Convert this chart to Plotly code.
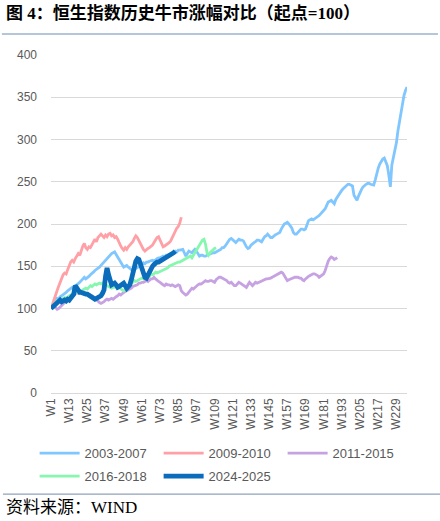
import plotly.graph_objects as go

# x categories: weekly index from the start of each bull market
weeks = ["W" + str(i) for i in range(1, 237)]
tick_weeks = ["W" + str(i) for i in range(1, 237, 12)]

# 2003-2007 rally (start = 100)
hs_2003_2007 = [
    100, 103, 106, 108, 112, 111, 114, 115, 116, 118,
    119, 121, 122, 123, 125, 124, 127, 128, 129, 131,
    133, 135, 137, 135, 136, 138, 140, 141, 143, 145,
    146, 148, 149, 151, 153, 156, 157, 160, 161, 163,
    165, 166, 167, 164, 161, 157, 154, 151, 149, 150,
    151, 149, 147, 146, 145, 146, 147, 148, 149, 150,
    152, 154, 153, 155, 155, 156, 157, 157, 156, 158,
    159, 160, 160, 161, 162, 161, 163, 163, 164, 165,
    166, 167, 168, 167, 169, 169, 170, 170, 166, 162,
    165, 168, 167, 166, 168, 170, 168, 165, 162, 163,
    163, 162, 162, 163, 164, 164, 165, 166, 166, 167,
    168, 169, 170, 172, 172, 174, 177, 180, 182, 183,
    181, 179, 178, 180, 182, 181, 181, 180, 176, 173,
    171, 172, 175, 177, 178, 179, 181, 181, 180, 179,
    182, 185, 186, 188, 186, 184, 184, 186, 187, 188,
    189, 190, 194, 198, 200, 201, 202, 200, 197, 195,
    190, 188, 188, 190, 191, 194, 194, 193, 194, 198,
    204, 205, 206, 205, 206, 207, 208, 210, 212, 214,
    216, 218, 222, 226, 227, 228, 226, 224, 229, 232,
    234, 237, 240, 242, 244, 246, 247, 247, 246, 245,
    234, 230, 228, 233, 238, 241, 244, 246, 247, 248,
    248, 247, 246, 246, 252, 260, 266, 271, 274, 277,
    278, 272, 269, 258, 244, 270, 280, 285, 296, 310,
    322, 332, 344, 352, 358, 362,
]

# 2009-2010 rally
hs_2009_2010 = [
    100, 106, 112, 116, 121, 126, 131, 136, 140, 142,
    141, 146, 151, 155, 157, 155, 159, 162, 165, 163,
    170, 174, 177, 172, 170, 173, 172, 176, 180, 182,
    179, 184, 186, 188, 186, 184, 187, 185, 188, 189,
    186, 187, 184, 185, 182, 177, 174, 171, 169, 172,
    170, 173, 175, 177, 179, 183, 186, 184, 180, 176,
    172, 170, 168, 169, 171, 172, 173, 175, 178, 181,
    184, 185, 181, 177, 173, 174, 175, 176, 178, 180,
    184, 189, 191, 195, 197, 201, 208,
]

# 2011-2015 rally
hs_2011_2015 = [
    100, 102, 103, 101, 99, 100, 102, 104, 106, 107,
    108, 110, 111, 113, 115, 116, 117, 119, 118, 120,
    121, 120, 119, 118, 118, 117, 116, 115, 114, 112,
    110, 109, 107, 106, 107, 108, 110, 111, 110, 111,
    112, 111, 113, 114, 115, 117, 116, 118, 119, 120,
    121, 121, 123, 124, 126, 127, 127, 128, 130, 130,
    131, 131, 132, 133, 132, 134, 135, 135, 137, 135,
    133, 132, 131, 130, 128, 127, 129, 128, 128, 127,
    128, 127, 126, 127, 128, 127, 121, 119, 117, 116,
    117, 119, 122, 124, 123, 125, 127, 128, 129, 129,
    130, 131, 133, 132, 132, 133, 133, 132, 131, 134,
    136, 137, 137, 136, 134, 133, 133, 131, 130, 131,
    129, 127, 127, 129, 131, 130, 129, 128, 126, 125,
    128, 131, 129, 127, 129, 131, 130, 131, 132, 133,
    133, 134, 135, 135, 136, 136, 137, 138, 139, 140,
    142, 142, 143, 142, 139, 136, 133, 134, 135, 135,
    136, 137, 137, 137, 136, 136, 134, 133, 135, 137,
    138, 139, 140, 141, 141, 140, 139, 137, 138, 140,
    141, 145, 152, 156, 159, 161, 160, 158, 159, 160,
]

# 2016-2018 rally
hs_2016_2018 = [
    100, 103, 105, 107, 109, 108, 110, 111, 112, 113,
    112, 114, 115, 116, 115, 117, 118, 119, 120, 119,
    121, 122, 123, 124, 123, 125, 127, 126, 128, 129,
    128, 129, 130, 129, 130, 129, 128, 127, 126, 125,
    124, 125, 125, 126, 127, 125, 123, 122, 121, 122,
    123, 125, 128, 129, 131, 133, 132, 133, 134, 135,
    136, 135, 137, 138, 139, 138, 141, 140, 141, 143,
    142, 143, 144, 145, 146, 147, 147, 148, 150, 151,
    151, 152, 153, 154, 155, 155, 156, 157, 158, 159,
    160, 161, 162, 160, 163, 166, 169, 172, 175, 178,
    181, 182, 176, 166, 163, 166, 168, 170, 171, 172,
]

# 2024-2025 rally
hs_2024_2025 = [
    100, 102, 104, 105, 107, 109, 110, 108, 109, 110,
    109, 111, 110, 112, 113, 117, 127, 124, 121, 119,
    119, 118, 118, 117, 117, 116, 115, 114, 112, 111,
    112, 113, 114, 115, 118, 122, 138, 148, 140, 133,
    128, 129, 130, 128, 125, 126, 127, 128, 130, 127,
    124, 126, 128, 134, 142, 151, 156, 159, 158, 153,
    146, 140, 137, 136, 140, 144, 148, 150, 152, 154,
    155, 155, 156, 157, 158, 159, 160, 161, 162, 164,
    165, 166, 168,
]

# name, values, colour, width, legend row
series = [
    ("2003-2007", hs_2003_2007, "#80C6FF", 2.8, "legend"),
    ("2009-2010", hs_2009_2010, "#FFA0A6", 2.8, "legend"),
    ("2011-2015", hs_2011_2015, "#C7A2E2", 2.8, "legend"),
    ("2016-2018", hs_2016_2018, "#86F7AE", 2.8, "legend2"),
    ("2024-2025", hs_2024_2025, "#0A6CBB", 4.8, "legend2"),
]

fig = go.Figure()
for name, vals, color, w, leg in series:
    fig.add_trace(go.Scatter(
        x=weeks[:len(vals)], y=vals, name=name, mode="lines",
        line=dict(color=color, width=w), legend=leg,
    ))

legend_style = dict(
    orientation="h", xanchor="left", yanchor="middle",
    entrywidth=69, entrywidthmode="pixels", itemwidth=40,
    font=dict(size=13, color="#595959"), bgcolor="rgba(0,0,0,0)",
)

fig.update_layout(
    width=440, height=521,
    margin=dict(l=51, r=33, t=55, b=128, autoexpand=False),
    paper_bgcolor="white", plot_bgcolor="white",
    font=dict(family="Liberation Sans, Noto Sans CJK SC", color="#595959", size=12),
    showlegend=True,
    legend=dict(legend_style, x=-0.046, y=-0.178),
    legend2=dict(legend_style, x=-0.046, y=-0.246),
)

fig.update_xaxes(
    type="category", categoryorder="array", categoryarray=weeks,
    tickmode="array", tickvals=tick_weeks, ticktext=tick_weeks,
    tickangle=-90, showgrid=False, showline=False, zeroline=False,
    ticklabelstandoff=2,
    tickfont=dict(size=12, color="#595959"),
)
fig.update_yaxes(
    range=[0, 400], dtick=50, showgrid=True, gridcolor="#D9D9D9", gridwidth=1,
    zeroline=True, zerolinecolor="#D9D9D9", zerolinewidth=1,
    showline=False, ticklabelstandoff=13,
    tickfont=dict(size=12, color="#595959"),
)

# title, rules and source note
fig.add_annotation(
    text="<b>图 4：恒生指数历史牛市涨幅对比（起点=100）</b>",
    xref="paper", yref="paper", x=-0.133, y=1.124, xanchor="left", yanchor="middle",
    showarrow=False, font=dict(family="Liberation Serif, Noto Sans CJK SC", size=17, color="black"),
)
fig.add_shape(type="line", xref="paper", yref="paper", x0=-0.138, x1=1.087, y0=1.062, y1=1.062,
              line=dict(color="#9DB3CB", width=1.5))
fig.add_shape(type="line", xref="paper", yref="paper", x0=-0.135, x1=1.093, y0=-0.299, y1=-0.299,
              line=dict(color="#8FA3B8", width=1.2))
fig.add_annotation(
    text="资料来源：WIND",
    xref="paper", yref="paper", x=-0.133, y=-0.34, xanchor="left", yanchor="middle",
    showarrow=False, font=dict(family="Liberation Serif, Noto Sans CJK SC", size=17, color="black"),
)

fig.write_html("out.html", config={"displayModeBar": False},
               post_script="document.body.style.margin='0';")
